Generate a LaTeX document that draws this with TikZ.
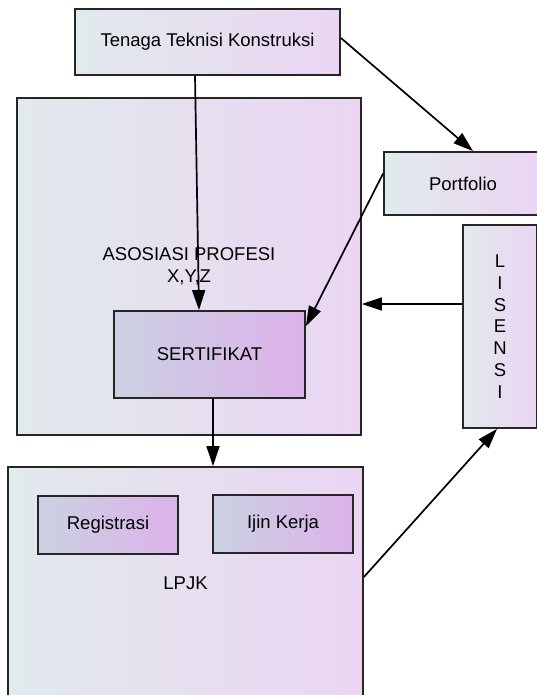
\documentclass[tikz,border=0pt]{standalone}
\usepackage{fontspec}
\setmainfont{Liberation Sans}
\usepackage{xcolor}
\usepackage{tikz}
\usetikzlibrary{arrows.meta}
\usetikzlibrary{positioning, calc}

\definecolor{kiri}{HTML}{E1EAEC}
\definecolor{kanan}{HTML}{EBD5F3}
\definecolor{kiritua}{HTML}{CBD1E2}
\definecolor{kanantua}{HTML}{DCB2EA}

\tikzset{
  kotak/.style={draw=black!85, line width=1.8pt, left color=kiri, right color=kanan,
    inner sep=0pt, align=center, font=\fontsize{18.5}{22}\selectfont},
  kotaktua/.style={kotak, left color=kiritua, right color=kanantua},
  panah/.style={draw=black, line width=1.7pt, -{Triangle[length=20pt,width=13pt]}}
}

\begin{document}
\begin{tikzpicture}[x=1pt, y=-1pt]
            \useasboundingbox (0,0) rectangle (537,695);

            % Kotak besar
            \node[kotak, minimum width=344pt, minimum height=337pt] (asos) at (189,266.5) {ASOSIASI PROFESI\\X,Y,Z};
            \node[kotak, minimum width=355pt, minimum height=233pt] (lpjk) at (185.5,583.5) {LPJK};

            % Kotak kecil
            \node[kotak, minimum width=265pt, minimum height=66pt] (tenaga) at (207.5,42) {Tenaga Teknisi Konstruksi};
            \node[kotak, minimum width=158pt, minimum height=63pt] (port) at (463,183.5) {Portfolio};
            \node[kotak, minimum width=74pt, minimum height=203pt, font=\fontsize{18.5}{21.8}\selectfont] (lis) at (500,326.5) {L\\I\\S\\E\\N\\S\\I};
            \node[kotaktua, minimum width=191pt, minimum height=87pt] (sert) at (209.5,354.5) {SERTIFIKAT};
            \node[kotaktua, minimum width=140pt, minimum height=58pt] (reg) at (108,525) {Registrasi};
            \node[kotaktua, minimum width=140pt, minimum height=58pt] (ijin) at (283,524) {Ijin Kerja};

            % Panah
            \draw[panah] ([xshift=-12.5pt]tenaga.south) -- ([xshift=-10.5pt]sert.north);
            \draw[panah] ([yshift=4pt]tenaga.east) -- ([xshift=10pt]port.north);
            \draw[panah] ([yshift=10pt]port.west) -- ([yshift=-16pt]sert.north east);
            \draw[panah] ([yshift=22.5pt]lis.west) -- ([yshift=-37.5pt]asos.east);
            \draw[panah] ([xshift=3.5pt]sert.south) -- ([xshift=27.5pt]lpjk.north);
            \draw[panah] ([yshift=6.5pt]lpjk.east) -- ([xshift=-3pt]lis.south);
        \end{tikzpicture}
\end{document}
